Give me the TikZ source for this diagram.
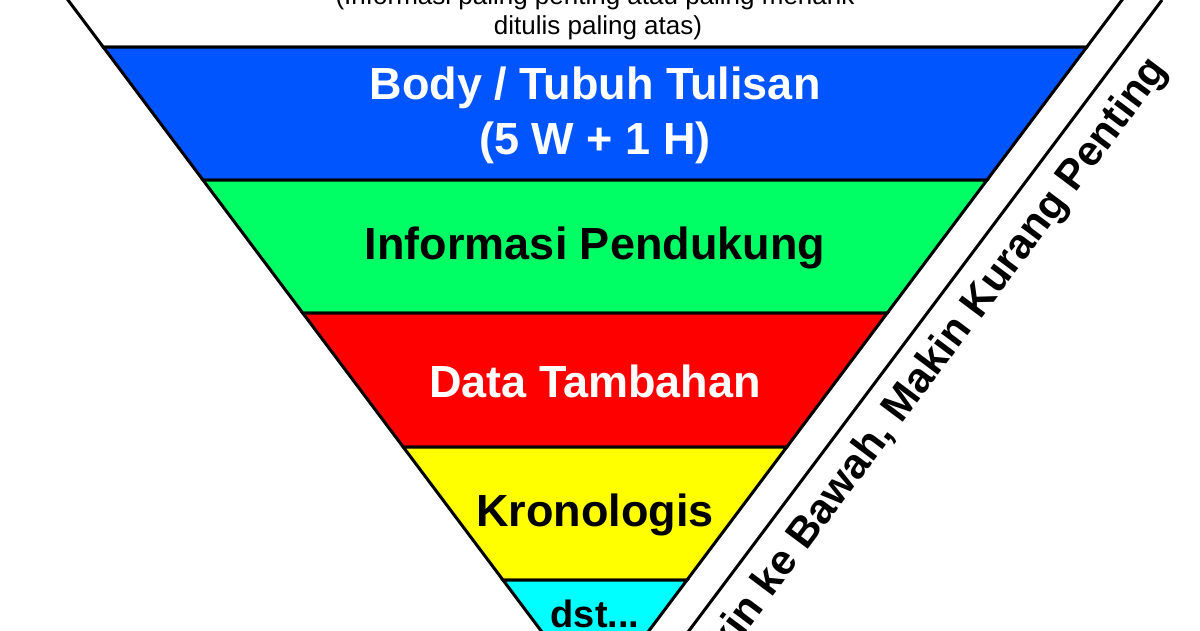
\documentclass[tikz,border=0pt]{standalone}
\usepackage{fontspec}
\setmainfont{Liberation Sans}
\definecolor{cblue}{RGB}{0,85,255}
\definecolor{cgreen}{RGB}{0,255,100}
\definecolor{cred}{RGB}{255,0,0}
\definecolor{cyel}{RGB}{255,255,0}
\definecolor{ccyan}{RGB}{0,255,255}
\begin{document}
\begin{tikzpicture}[x=1pt,y=-1pt,
  band/.style={draw=black,line width=3pt,line join=miter},
  big/.style={font=\fontsize{45}{54}\selectfont\bfseries,align=center,inner sep=0},
  small/.style={font=\fontsize{26}{30}\selectfont,align=center,inner sep=0}]
\useasboundingbox (0,0) rectangle (1200,630);
\begin{scope}
\clip (0,0) rectangle (1200,630);
\newcommand{\band}[3]{\filldraw[band,fill=#3] ({68+0.75*#1},#1) -- ({1122-0.75*#1},#1) -- ({1122-0.75*#2},#2) -- ({68+0.75*#2},#2) -- cycle;}
\band{-40}{47}{white}
\band{47}{180}{cblue}
\band{180}{313}{cgreen}
\band{313}{447}{cred}
\band{447}{580}{cyel}
\band{580}{720}{ccyan}
\coordinate (la) at (1162,0);
\coordinate (lb) at (1162-0.75*720,720);
\draw[line width=3pt] (la) -- (lb);
\end{scope}
\node[small,anchor=base] (t1) at (595,4) {(Informasi paling penting atau paling menarik};
\node[small,anchor=base] (t2) at (598,34) {ditulis paling atas)};
\node[big,text=white] (b1) at (595,88) {Body / Tubuh Tulisan};
\node[big,text=white] (b2) at (595,143) {(5 W + 1 H)};
\node[big] (g) at (595,248) {Informasi Pendukung};
\node[big,text=white] (r) at (595,381) {Data Tambahan};
\node[big] (y) at (595,515) {Kronologis};
\node[inner sep=0,font=\fontsize{38}{40}\selectfont\bfseries] (c) at (595,614) {dst...};
\node[inner sep=0,anchor=north,rotate=53.13,font=\fontsize{42}{48}\selectfont\bfseries] (s) at (906,368) {Makin ke Bawah, Makin Kurang Penting};
\end{tikzpicture}
\end{document}
